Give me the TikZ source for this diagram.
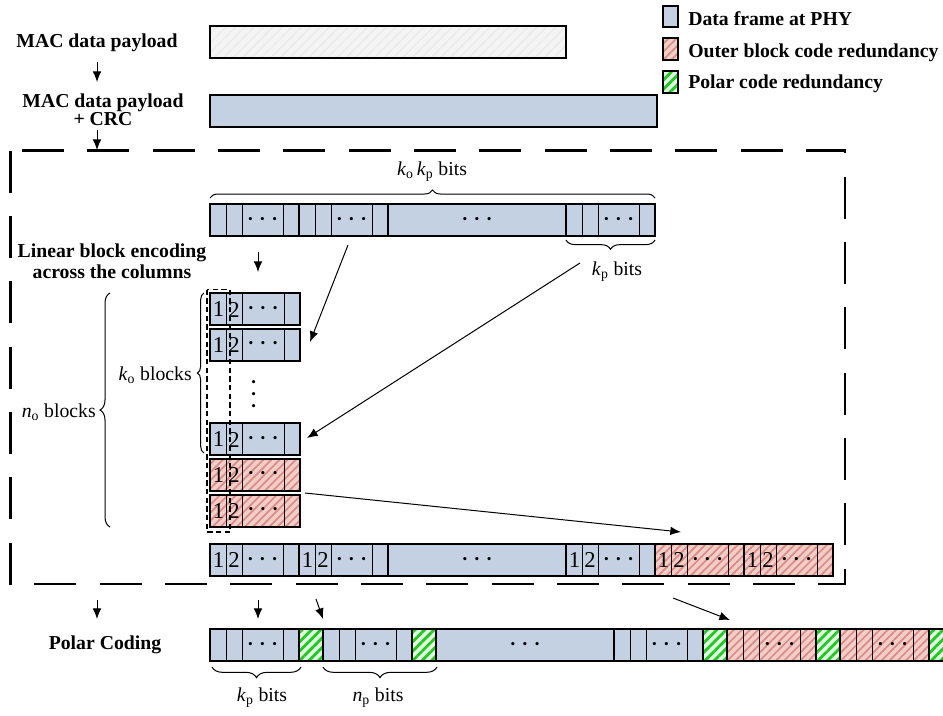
\documentclass[tikz,border=0pt]{standalone}
\usepackage{fontspec}
\setmainfont{Liberation Serif}
\usetikzlibrary{arrows.meta}
\usetikzlibrary{patterns.meta}
\usetikzlibrary{decorations.pathreplacing}

\definecolor{phyblue}{RGB}{195,209,227}
\definecolor{redbg}{RGB}{242,206,201}
\definecolor{redln}{RGB}{221,139,133}
\definecolor{greenbg}{RGB}{225,250,225}
\definecolor{greenln}{RGB}{34,200,34}
\definecolor{macgray}{RGB}{244,244,244}
\definecolor{macln}{RGB}{234,234,234}

\newcommand{\tridots}{{\fontsize{10}{10}\selectfont\textbullet\hspace{5.6pt}\textbullet\hspace{5.6pt}\textbullet}}
\newcommand{\ssub}[2]{\textit{#1}\textsubscript{#2}}

\begin{document}
\begin{tikzpicture}[x=0.75pt,y=0.75pt,yscale=-1,xscale=1,
  lbl/.style={inner sep=0.75pt,font=\fontsize{14.8}{17}\selectfont},
  blbl/.style={inner sep=0.75pt,font=\fontsize{14.8}{17}\selectfont\bfseries},
  digit/.style={inner sep=0pt,font=\fontsize{17}{17}\selectfont},
  bluecell/.style={fill=phyblue},
  redcell/.style={fill=redbg,postaction={pattern={Lines[angle=45,distance=4.3pt,line width=1.3pt]},pattern color=redln}},
  greencell/.style={fill=greenbg,postaction={pattern={Lines[angle=45,distance=5pt,line width=2.1pt]},pattern color=greenln}},
  graycell/.style={fill=macgray,postaction={pattern={Lines[angle=45,distance=5pt,line width=1pt]},pattern color=macln}},
  cellline/.style={line width=0.6},
  grpline/.style={line width=1.5},
  arr/.style={-{Latex[length=8pt,width=6.5pt]},line width=0.75},
  brc/.style={decorate,line width=0.75},
]
\useasboundingbox (0,0) rectangle (943,715);

% Legend
\draw [bluecell,line width=0.9] (663,6) rectangle (678,27) ;
\draw [redcell,line width=0.9] (663,38) rectangle (678,60) ;
\draw [line width=0.9] (663,38) rectangle (678,60) ;
\draw [greencell,line width=0.9] (663,71) rectangle (678,93) ;
\draw [line width=0.9] (663,71) rectangle (678,93) ;
\node [blbl,anchor=base west] (legblue) at (687,25) {Data frame at PHY};
\node [blbl,anchor=base west] (legred) at (687,57) {Outer block code redundancy};
\node [blbl,anchor=base west] (leggreen) at (687,88) {Polar code redundancy};

% MAC payload bars
\fill [graycell] (210,26) rectangle (566,58) ;
\draw [grpline] (210,26) rectangle (566,58) ;
\draw [bluecell,grpline] (210,95) rectangle (657,127) ;

% Text Node
\node [blbl] (mac) at (97,43) {MAC data payload};
\node [blbl,align=center,font=\fontsize{14.8}{13.5}\selectfont\bfseries] (maccrc) at (103,110) {MAC data payload\\+ CRC};

%Straight Lines
\coordinate (a1s) at (97,62);
\coordinate (a1e) at (97,82);
\draw [arr] (a1s) -- (a1e) ;
\coordinate (a2s) at (97,130);
\coordinate (a2e) at (97,150);
\draw [arr] (a2s) -- (a2e) ;

% Top row: k_o k_p bits
\foreach \gx in {210,299,566}{
  \fill [bluecell] (\gx,203.5) rectangle ++(89,32.5) ;
  \draw [cellline] (\gx+16,203.5) -- ++(0,32.5) (\gx+32,203.5) -- ++(0,32.5) (\gx+73,203.5) -- ++(0,32.5) ;
  \draw [grpline] (\gx,203.5) rectangle ++(89,32.5) ;
  \node [lbl] (td\gx) at (\gx+52.5,220) {\tridots};
}
\draw [bluecell,grpline] (388,203.5) rectangle (566,236) ;
\node [lbl] (tdbig) at (477,220) {\tridots};

%Braces
\draw [brc,decoration={brace,amplitude=6pt}] (210,198) -- (655,198) ;
\node [lbl] (kokp) at (432,172) {\ssub{k}{o}\,\ssub{k}{p} bits};
\draw [brc,decoration={brace,amplitude=7pt}] (655,240) -- (566,240) ;
\node [lbl] (kptop) at (617,272) {\ssub{k}{p} bits};

% Text Node
\node [blbl,align=center,font=\fontsize{14.8}{15.8}\selectfont\bfseries] (lin) at (112,261) {Linear block encoding\\across the columns};
\coordinate (a3s) at (258,252);
\coordinate (a3e) at (258,272);
\draw [arr] (a3s) -- (a3e) ;

% Blocks
\foreach \by/\st [count=\i] in {293/bluecell,328.5/bluecell,423/bluecell,458.5/redcell,494.5/redcell}{
  \fill [\st] (210,\by) rectangle ++(90,32) ;
  \draw [cellline] (226,\by) -- ++(0,32) (242,\by) -- ++(0,32) (284,\by) -- ++(0,32) ;
  \draw [grpline] (210,\by) rectangle ++(90,32) ;
  \node [digit] (bk\i one) at (218.5,\by+16.5) {1};
  \node [digit] (bk\i two) at (234,\by+16.5) {2};
  \node [lbl] (bk\i dots) at (263,\by+16) {\tridots};
}
\node [lbl,rotate=90] (vdots) at (255,394) {\tridots};
\draw [line width=0.9,dash pattern=on 4pt off 2.5pt] (207,289.5) rectangle (230,532) ;

\draw [brc,decoration={brace,amplitude=5pt}] (204,453) -- (204,293) ;
\node [lbl,anchor=east] (ko) at (193,375) {\ssub{k}{o} blocks};
\draw [brc,decoration={brace,amplitude=7.5pt}] (110,527) -- (110,293) ;
\node [lbl,anchor=east] (no) at (97,412) {\ssub{n}{o} blocks};

% Slanted arrows
\coordinate (a4s) at (348,245);
\coordinate (a4e) at (310,342);
\draw [arr] (a4s) -- (a4e) ;
\coordinate (a5s) at (580,263);
\coordinate (a5e) at (307,438);
\draw [arr] (a5s) -- (a5e) ;
\coordinate (a6s) at (305,493);
\coordinate (a6e) at (681,532);
\draw [arr] (a6s) -- (a6e) ;

% Encoded row
\foreach \gx/\st in {210/bluecell,299/bluecell,566/bluecell,655/redcell,744/redcell}{
  \fill [\st] (\gx,543.5) rectangle ++(89,32.5) ;
  \draw [cellline] (\gx+16,543.5) -- ++(0,32.5) (\gx+32,543.5) -- ++(0,32.5) (\gx+73,543.5) -- ++(0,32.5) ;
  \draw [grpline] (\gx,543.5) rectangle ++(89,32.5) ;
  \node [digit] (er\gx one) at (\gx+8.5,560) {1};
  \node [digit] (er\gx two) at (\gx+24,560) {2};
  \node [lbl] (er\gx dots) at (\gx+52.5,560) {\tridots};
}
\draw [bluecell,grpline] (388,543.5) rectangle (566,576) ;
\node [lbl] (erbig) at (477,560) {\tridots};

% Outer dashed frame
\draw [line width=1.7,dash pattern=on 31.5pt off 17.5pt] (10.5,150.5) rectangle (845,584) ;

% Polar coding
\coordinate (a7s) at (97,600);
\coordinate (a7e) at (97,619);
\draw [arr] (a7s) -- (a7e) ;
\coordinate (a8s) at (258,600);
\coordinate (a8e) at (258,619);
\draw [arr] (a8s) -- (a8e) ;
\coordinate (a9s) at (316,599);
\coordinate (a9e) at (323,619);
\draw [arr] (a9s) -- (a9e) ;
\coordinate (a10s) at (673,598);
\coordinate (a10e) at (730,620);
\draw [arr] (a10s) -- (a10e) ;
\node [blbl] (polar) at (105,645) {Polar Coding};

\foreach \gx/\st in {210/bluecell,323/bluecell,614/bluecell,727/redcell,840/redcell}{
  \fill [\st] (\gx,629) rectangle ++(89,32) ;
  \draw [cellline] (\gx+16,629) -- ++(0,32) (\gx+32,629) -- ++(0,32) (\gx+73,629) -- ++(0,32) ;
  \draw [grpline] (\gx,629) rectangle ++(89,32) ;
  \node [lbl] (pc\gx dots) at (\gx+52.5,645) {\tridots};
}
\foreach \gx in {299,412,703,816,929}{
  \fill [greencell] (\gx,629) rectangle ++(24,32) ;
  \draw [grpline] (\gx,629) rectangle ++(24,32) ;
}
\draw [bluecell,grpline] (436,629) rectangle (614,661) ;
\node [lbl] (pcbig) at (525,645) {\tridots};

\draw [brc,decoration={brace,amplitude=8pt}] (301,667) -- (212,667) ;
\node [lbl] (kpbot) at (262,698) {\ssub{k}{p} bits};
\draw [brc,decoration={brace,amplitude=8pt}] (437,667) -- (323,667) ;
\node [lbl] (npbot) at (378,698) {\ssub{n}{p} bits};

\end{tikzpicture}
\end{document}
